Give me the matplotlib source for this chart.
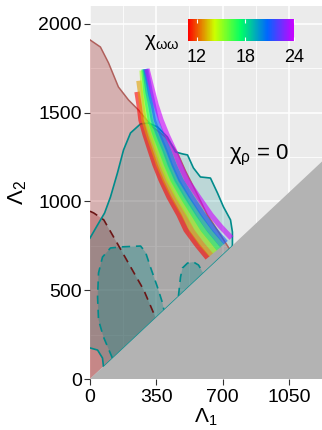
import numpy as np
import matplotlib
matplotlib.use("Agg")
import matplotlib.pyplot as plt
from matplotlib.colors import LinearSegmentedColormap, Normalize

plt.rcParams['font.family'] = ['Liberation Sans', 'DejaVu Sans']
plt.rcParams['mathtext.fontset'] = 'custom'
plt.rcParams['mathtext.rm'] = 'Liberation Sans'
plt.rcParams['mathtext.it'] = 'Liberation Sans:italic'
plt.rcParams['mathtext.bf'] = 'Liberation Sans:bold'

# ---- data ----
# chi_omega_omega curves (Lambda1, Lambda2)
chi_vals = [11, 13, 15, 17, 19, 21, 24]
band_L1 = [
    [248, 259, 269, 291, 317, 343, 375, 417, 470, 507, 565, 621],
    [258, 266, 274, 285, 309, 336, 363, 396, 441, 496, 537, 590, 640],
    [275, 282, 290, 301, 327, 356, 383, 417, 465, 522, 568, 615, 660],
    [284, 295, 305, 318, 344, 375, 404, 438, 489, 548, 598, 640, 679],
    [290, 306, 320, 334, 362, 395, 424, 459, 512, 573, 629, 698],
    [295, 318, 334, 350, 380, 414, 444, 480, 536, 599, 659, 717],
    [301, 322, 349, 375, 407, 444, 475, 512, 573, 639, 692, 747],
]
band_L2 = [
    [1617, 1544, 1459, 1375, 1290, 1206, 1121, 1025, 924, 839, 755, 682],
    [1680, 1617, 1544, 1459, 1375, 1290, 1206, 1121, 1025, 924, 839, 760, 699],
    [1738, 1617, 1544, 1459, 1375, 1290, 1206, 1121, 1025, 924, 839, 775, 716],
    [1744, 1617, 1544, 1459, 1375, 1290, 1206, 1121, 1025, 924, 839, 785, 733],
    [1746, 1617, 1544, 1459, 1375, 1290, 1206, 1121, 1025, 924, 839, 751],
    [1746, 1617, 1544, 1459, 1375, 1290, 1206, 1121, 1025, 924, 839, 768],
    [1746, 1656, 1544, 1459, 1375, 1290, 1206, 1121, 1025, 924, 856, 794],
]

# brown density contours
brown_out_L1 = [0, 0, 55, 98, 150, 203, 256, 330, 399, 441, 462, 505, 560, 620, 690, 735]
brown_out_L2 = [0, 1910, 1870, 1780, 1645, 1572, 1515, 1420, 1363, 1307, 1273, 1170, 1054,
                924, 810, 735]
brown_in_L1 = [0, 0, 20, 73, 144, 214, 284, 346]
brown_in_L2 = [0, 945, 935, 896, 764, 632, 501, 346]

# teal density contours
teal_low_L1 = [71, 66, 40, 0]
teal_low_L2 = [71, 118, 163, 175]
teal_up_L1 = [0, 40, 77, 108, 145, 177, 214, 267, 309, 356, 409, 451, 488, 515, 546,
              583, 636, 673, 705, 742, 752, 752]
teal_up_L2 = [794, 868, 935, 1025, 1161, 1290, 1386, 1437, 1442, 1420, 1363, 1279, 1268,
              1262, 1189, 1138, 1132, 1048, 969, 896, 828, 752]
blob1_L1 = [118, 71, 45, 40, 45, 66, 108, 161, 267, 293, 319, 356, 383, 390]
blob1_L2 = [118, 237, 332, 462, 597, 687, 738, 744, 749, 715, 631, 518, 428, 390]
blob2_L1 = [467, 478, 488, 515, 546, 573, 594, 600]
blob2_L2 = [467, 574, 625, 653, 659, 642, 603, 600]

x_ticks = [0, 350, 700, 1050]
y_ticks = [0, 500, 1000, 1500, 2000]
cbar_ticks = [12, 18, 24]
chi_min, chi_max = 10.94, 24.04

rainbow = LinearSegmentedColormap.from_list(
    'rainbow5', ['#FF0000', '#CCFF00', '#00FF66', '#0066FF', '#CC00FF'])
norm = Normalize(chi_min, chi_max)

brown = '#A52A2A'
teal = '#008B8B'

fig = plt.figure(figsize=(3.22, 4.30), dpi=100)
ax = fig.add_axes([90 / 322, 51 / 430, 232 / 322, 373 / 430])
ax.set_facecolor('#EBEBEB')
ax.set_xlim(0, 1225)
ax.set_ylim(0, 2101)

# fills
ax.fill(brown_out_L1, brown_out_L2, color=brown, alpha=0.3, lw=0, zorder=2)
ax.fill(brown_in_L1, brown_in_L2, color=brown, alpha=0.3, lw=0, zorder=2)
teal_L1 = teal_low_L1 + teal_up_L1
teal_L2 = teal_low_L2 + teal_up_L2
ax.fill(teal_L1, teal_L2, color=teal, alpha=0.2, lw=0, zorder=2)
ax.fill(blob1_L1, blob1_L2, color=teal, alpha=0.3, lw=0, zorder=2)
ax.fill(blob2_L1, blob2_L2, color=teal, alpha=0.3, lw=0, zorder=2)

# contour lines
ax.plot(brown_out_L1[1:], brown_out_L2[1:], color='#B0605C', lw=1.1, zorder=3)
ax.plot(brown_in_L1[1:], brown_in_L2[1:], color='#6B1515', lw=1.2,
        dashes=(5, 3.5), zorder=3)
ax.plot(teal_low_L1, teal_low_L2, color=teal, lw=1.2, zorder=3)
ax.plot(teal_up_L1, teal_up_L2, color=teal, lw=1.2, zorder=3)
ax.plot(blob1_L1, blob1_L2, color=teal, lw=1.2, dashes=(5, 3.5), zorder=3)
ax.plot(blob2_L1, blob2_L2, color=teal, lw=1.2, dashes=(5, 3.5), zorder=3)

# forbidden region below the diagonal
ax.fill([0, 1300, 1300], [0, 1300, 0], color='#B3B3B3', lw=0, zorder=4)
ax.plot([teal_low_L1[0], teal_up_L1[-1]], [teal_low_L2[0], teal_up_L2[-1]],
        color=teal, lw=0.5, zorder=4)

# chi_omega_omega band
for c, l1, l2 in zip(chi_vals, band_L1, band_L2):
    ax.plot(l1, l2, color=rainbow(norm(c)), lw=3.8, alpha=0.6,
            solid_capstyle='butt', zorder=5)

ax.text(895, 1262, r'$\mathrm{\chi}_\mathrm{\rho}$ = 0', fontsize=16,
        ha='center', va='center', zorder=6)

# axes styling (ggplot grey theme)
ax.set_xticks(x_ticks)
ax.set_yticks(y_ticks)
ax.set_xticks([175, 525, 875], minor=True)
ax.set_yticks([250, 750, 1250, 1750], minor=True)
ax.grid(which='major', color='white', lw=1.1, zorder=0)
ax.grid(which='minor', color='white', lw=0.55, zorder=0)
ax.set_axisbelow(True)
for s in ax.spines.values():
    s.set_visible(False)
ax.tick_params(which='major', length=4.3, width=0.8, color='#333333',
               labelsize=14, labelcolor='black')
ax.tick_params(axis='x', pad=3)
ax.tick_params(axis='y', pad=1.5)
ax.tick_params(which='minor', length=0)
ax.set_xlabel(r'$\mathrm{\Lambda}_1$', fontsize=15, va='center')
ax.set_ylabel(r'$\mathrm{\Lambda}_2$', fontsize=16, va='center')
ax.xaxis.set_label_coords(0.5, -0.104)
ax.yaxis.set_label_coords(-0.3125, 0.5)

# colour bar legend
cax = fig.add_axes([188 / 322, (430 - 41) / 430, 106 / 322, 22 / 430])
sm = plt.cm.ScalarMappable(cmap=rainbow, norm=norm)
cb = fig.colorbar(sm, cax=cax, orientation='horizontal')
cb.set_ticks(cbar_ticks)
cb.outline.set_visible(False)
cax.tick_params(direction='in', length=3, width=0.8, color='white',
                labelsize=13, pad=6, top=True, bottom=True,
                labeltop=False, labelbottom=True)
fig.text(179 / 322, 1 - 43 / 430, r'$\mathrm{\chi}_{\mathrm{\omega\omega}}$',
         fontsize=15, ha='right', va='center')

fig.savefig('out.png', dpi=100)
